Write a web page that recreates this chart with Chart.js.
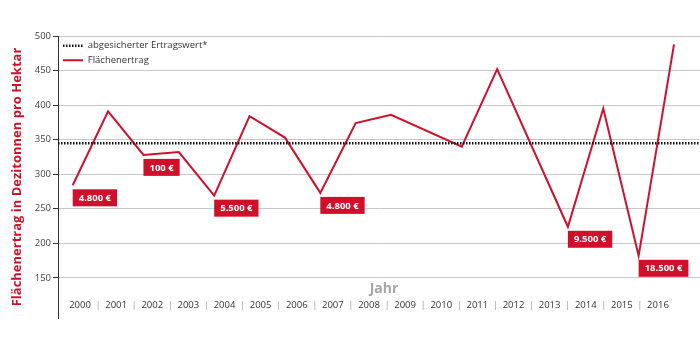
<!DOCTYPE html>
<html>
<head>
<meta charset="utf-8">
<script src="https://cdn.jsdelivr.net/npm/chart.js@4/dist/chart.umd.min.js"></script>
<style>
  html, body { margin: 0; padding: 0; background: #ffffff; }
  #c { display: block; }
</style>
</head>
<body>
<canvas id="c" width="700" height="357"></canvas>
<script>
// ---- data ----
const yearLabels = ['2000','2001','2002','2003','2004','2005','2006','2007','2008','2009','2010','2011','2012','2013','2014','2015','2016'];
// line vertices (evenly spaced slots; null = no vertex, line passes straight through)
const yieldValues = [284, 391, 328, 332, 269, 384, 353, 273, 374, 386, null, 340, 452, null, 224, 395, 182, 488];
const thresholdValue = 345;
const boxIndices = [0, 2, 4, 7, 14, 16];
const boxTexts = ['4.800 €', '100 €', '5.500 €', '4.800 €', '9.500 €', '18.500 €'];
const yTickValues = [150, 200, 250, 300, 350, 400, 450, 500];
const seriesNames = ['abgesicherter Ertragswert*', 'Flächenertrag'];
const yTitle = 'Flächenertrag in Dezitonnen pro Hektar';
const xTitle = 'Jahr';

// ---- styling ----
const RED = '#d0102b';
const FONT = '"Open Sans", sans-serif';
const X_MIN = -0.416, X_MAX = 17.735;      // data axis range (slots)
const XL_MIN = -0.609, XL_MAX = 17.163;    // year-label axis range
const THRESH_DASH = [1.5, 1.5];

const labelTickValues = [];
for (let i = 0; i < yearLabels.length; i++) {
  labelTickValues.push(i);
  if (i < yearLabels.length - 1) labelTickValues.push(i + 0.5);
}

const boxPlugin = {
  id: 'valueBoxes',
  afterLayout(chart) {
    // keep the in-plot legend anchored to the top of the plot area
    const lg = chart.legend;
    if (lg) {
      const dy = chart.chartArea.top - lg.top;
      lg.top += dy;
      lg.bottom += dy;
    }
  },
  afterDatasetsDraw(chart) {
    const ctx = chart.ctx;
    const meta = chart.getDatasetMeta(1);
    ctx.save();
    ctx.font = 'bold 9.5px ' + FONT;
    boxIndices.forEach((idx, k) => {
      const pt = meta.data[idx];
      if (!pt) return;
      const txt = boxTexts[k];
      const w = ctx.measureText(txt).width + 12;
      const h = 17;
      const x = pt.x, y = pt.y + 4;
      ctx.fillStyle = RED;
      ctx.fillRect(x, y, w, h);
      ctx.fillStyle = '#ffffff';
      ctx.textAlign = 'center';
      ctx.textBaseline = 'middle';
      ctx.fillText(txt, x + w / 2, y + h / 2 + 0.5);
    });
    // axis caption "Jahr" sits inside the plot, above the year labels
    const ca = chart.chartArea;
    ctx.font = 'bold 14px ' + FONT;
    ctx.fillStyle = '#a6a6a6';
    ctx.textAlign = 'center';
    ctx.textBaseline = 'middle';
    ctx.fillText(xTitle, (ca.left + ca.right) / 2 + 5, ca.bottom - 29);
    ctx.restore();
  }
};

new Chart(document.getElementById('c'), {
  type: 'line',
  data: {
    datasets: [
      {
        label: seriesNames[0],
        data: [{ x: X_MIN, y: thresholdValue }, { x: X_MAX, y: thresholdValue }],
        borderColor: '#111111',
        backgroundColor: '#111111',
        borderWidth: 2.5,
        borderDash: THRESH_DASH,
        pointRadius: 0,
        xAxisID: 'x'
      },
      {
        label: seriesNames[1],
        data: yieldValues.map((v, i) => ({ x: i, y: v })),
        borderColor: RED,
        backgroundColor: RED,
        borderWidth: 2,
        pointRadius: 0,
        spanGaps: true,
        tension: 0,
        xAxisID: 'x'
      }
    ]
  },
  options: {
    responsive: false,
    animation: false,
    layout: { padding: { top: 36, right: 0, bottom: 0, left: 0 } },
    scales: {
      x: { type: 'linear', min: X_MIN, max: X_MAX, display: false },
      xl: {
        type: 'linear',
        position: 'bottom',
        min: XL_MIN,
        max: XL_MAX,
        grid: { display: false, drawTicks: false },
        border: { display: false },
        afterBuildTicks: (s) => { s.ticks = labelTickValues.map(v => ({ value: v })); },
        afterFit: (s) => { s.height = 39; },
        ticks: {
          mirror: true,
          padding: 7,
          autoSkip: false,
          maxRotation: 0,
          font: { family: FONT, size: 9.5 },
          color: (c) => (c.tick && Number.isInteger(c.tick.value)) ? '#333333' : '#a0a0a0',
          callback: (v) => Number.isInteger(v) ? yearLabels[v] : '|'
        }
      },
      y: {
        type: 'linear',
        min: 92,
        max: 500,
        afterBuildTicks: (s) => { s.ticks = yTickValues.map(v => ({ value: v })); },
        afterFit: (s) => { s.width = 58; },
        grid: { color: '#c8c8c8', tickColor: '#333333', tickLength: 5, lineWidth: 1 },
        border: { color: '#333333', width: 1 },
        ticks: { padding: 2, font: { family: FONT, size: 9.5 }, color: '#444444' },
        title: {
          display: true,
          text: yTitle,
          color: RED,
          font: { family: FONT, size: 13, weight: 'bold' },
          padding: { top: 9, bottom: 0 }
        }
      }
    },
    plugins: {
      legend: {
        position: 'chartArea',
        align: 'start',
        labels: {
          usePointStyle: true,
          pointStyle: 'line',
          pointStyleWidth: 20,
          boxHeight: 9,
          padding: 5,
          color: '#333333',
          font: { family: FONT, size: 9.5 },
          generateLabels: (chart) => {
            const items = Chart.defaults.plugins.legend.labels.generateLabels(chart);
            items.forEach((it) => {
              const ds = chart.data.datasets[it.datasetIndex];
              it.lineDash = ds.borderDash || [];
              it.lineWidth = ds.borderWidth;
              it.strokeStyle = ds.borderColor;
              it.fontColor = '#333333';
            });
            return items;
          }
        }
      },
      tooltip: { enabled: false }
    }
  },
  plugins: [boxPlugin]
});
</script>
</body>
</html>
